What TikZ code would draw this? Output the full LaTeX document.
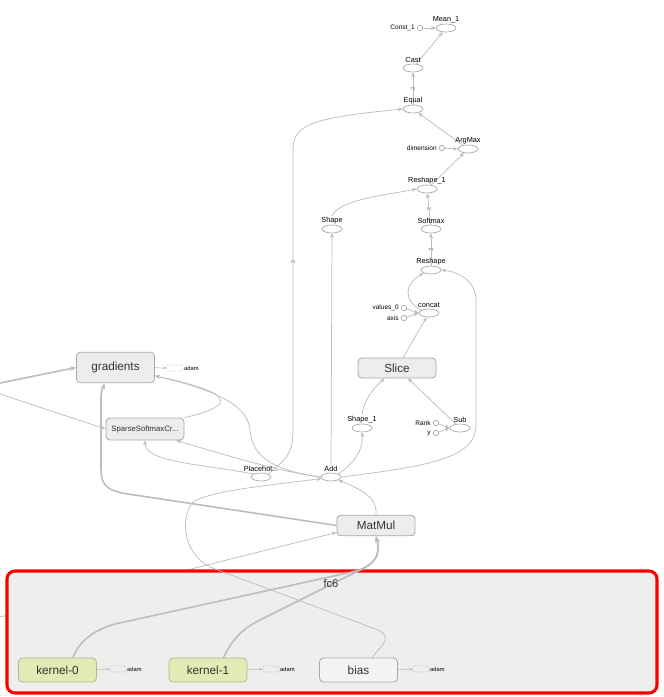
\documentclass[tikz,border=0pt]{standalone}
\usepackage{fontspec}
\setmainfont{Liberation Sans}
\usepackage{tikz}
\usetikzlibrary{positioning,arrows.meta,calc,shapes.geometric}
\definecolor{edgec}{HTML}{BDBDBD}
\definecolor{opline}{HTML}{A6A6A6}
\definecolor{boxfill}{HTML}{EDEDEB}
\definecolor{boxline}{HTML}{A8A8A8}
\definecolor{kernfill}{HTML}{E2EAB6}
\definecolor{kernline}{HTML}{B3B88E}
\definecolor{biasfill}{HTML}{F4F4F2}
\definecolor{grpfill}{HTML}{EEEEEC}
\definecolor{lblblue}{HTML}{5B7FA6}
\pgfdeclarelayer{bottom}\pgfdeclarelayer{group}\pgfdeclarelayer{edges}
\pgfsetlayers{bottom,group,edges,main}

\begin{document}
\begin{tikzpicture}[x=0.75pt,y=-0.75pt,
  op/.style={ellipse,draw=opline,fill=white,line width=0.5pt,minimum width=15pt,minimum height=6pt,inner sep=0pt},
  oplbl/.style={font=\fontsize{5.5}{6}\selectfont,inner sep=0.6pt},
  cst/.style={circle,draw=opline,fill=white,line width=0.5pt,minimum size=4pt,inner sep=0pt},
  cstlbl/.style={font=\fontsize{4.9}{5}\selectfont,inner sep=0.5pt,label distance=1pt},
  meta/.style={rectangle,rounded corners=3pt,draw=boxline,fill=boxfill,line width=0.6pt,minimum width=58.5pt,text=black!80,font=\fontsize{8.8}{9}\selectfont,inner sep=0pt},
  kern/.style={meta,fill=kernfill,draw=kernline},
  aux/.style={rectangle,rounded corners=1.5pt,draw=opline,densely dotted,line width=0.4pt,minimum width=12pt,minimum height=4.5pt,inner sep=0pt},
  auxlbl/.style={font=\fontsize{4.3}{5}\selectfont,inner sep=0.5pt},
  conn/.style={draw=edgec,line width=0.55pt,-{Stealth[length=3.6pt,width=3pt]}},
  fatconn/.style={conn,line width=1.2pt,-{Stealth[length=4.5pt,width=3.8pt]}},
  auxconn/.style={conn,-{Stealth[length=2.6pt,width=2.2pt]}},
  elbl/.style={font=\fontsize{4.5}{5}\selectfont,text=lblblue,inner sep=0.5pt,sloped}]
  \useasboundingbox (0,0) rectangle (664,697);

  \node[op,label={[oplbl]above:Mean\_1}] (mean) at (446,28) {};
  \node[cst,label={[cstlbl]left:Const\_1}] (const1) at (420,28) {};
  \node[op,label={[oplbl]above:Cast}] (cast) at (413,68) {};
  \node[op,label={[oplbl]above:Equal}] (equal) at (413,109) {};
  \node[op,label={[oplbl]above:ArgMax}] (argmax) at (468,149) {};
  \node[cst,label={[cstlbl]left:dimension}] (dim) at (442,148) {};
  \node[op,label={[oplbl]above:Reshape\_1}] (reshape1) at (427,189) {};
  \node[op,label={[oplbl]above:Softmax}] (softmax) at (431,229) {};
  \node[op,label={[oplbl]above:Reshape}] (reshape) at (431,270) {};
  \node[op,label={[oplbl,name=shape-l]above:Shape}] (shape) at (332,229) {};
  \node[op,label={[oplbl]above:concat}] (concat) at (429,313) {};
  \node[cst,label={[cstlbl]left:values\_0}] (val0) at (404,308) {};
  \node[cst,label={[cstlbl]left:axis}] (axis) at (404,318) {};
  \node[meta,minimum height=15pt] (slice) at (397,368) {Slice};
  \node[op,label={[oplbl,name=shape1-l]above:Shape\_1}] (shape1) at (362,428) {};
  \node[op,label={[oplbl]above:Sub}] (sub) at (460,428) {};
  \node[cst,label={[cstlbl]left:Rank}] (rank) at (436,423) {};
  \node[cst,label={[cstlbl]left:y}] (yin) at (436,433) {};
  \node[op,label={[oplbl,name=add-l]above:Add}] (add) at (331,477) {};
  \node[op,label={[oplbl]above:Placehol...}] (ph) at (261,477) {};

  \node[meta,minimum height=23pt] (grad) at (115.5,367.5) {gradients};
  \node[aux,label={[auxlbl]right:adam}] (grad-adam) at (175,368) {};
  \node[meta,minimum height=16.5pt,font=\fontsize{5.8}{6}\selectfont] (sparse) at (145,429) {SparseSoftmaxCr...};
  \node[meta,minimum height=15.5pt] (matmul) at (376,525.5) {MatMul};

  \begin{pgfonlayer}{group}
    \node[draw=red,line width=2.3pt,rounded corners=6pt,fill=grpfill,minimum width=487.5pt,minimum height=91.5pt] (fc6) at (332,632) {};
  \end{pgfonlayer}
  \node[font=\fontsize{8.4}{9}\selectfont,text=black!80] (fc6-l) at (331,583) {fc6};
  \node[kern,minimum height=18pt] (k0) at (57.5,670) {kernel-0};
  \node[kern,minimum height=18pt] (k1) at (208,670) {kernel-1};
  \node[meta,fill=biasfill,minimum height=18pt] (bias) at (358.5,670) {bias};
  \node[aux,label={[auxlbl]right:adam}] (k0-adam) at (118,669) {};
  \node[aux,label={[auxlbl]right:adam}] (k1-adam) at (271,669) {};
  \node[aux,label={[auxlbl]right:adam}] (bias-adam) at (421,669) {};

  \coordinate (inA) at (0,383);
  \coordinate (inB) at (0,394);
  \coordinate (inC) at (0,617);

  \begin{pgfonlayer}{bottom}
    \draw[conn] (inC) -- (matmul.190);
  \end{pgfonlayer}

  \begin{pgfonlayer}{edges}
  \draw[conn] (const1) -- (mean);
  \draw[conn] (cast) -- (mean);
  \draw[conn] (equal) -- node[elbl]{2} (cast);
  \draw[conn] (argmax) -- (equal);
  \draw[conn] (dim) -- (argmax.west);
  \draw[conn] (reshape1) -- (argmax);
  \draw[conn] (softmax) -- node[elbl]{2} (reshape1);
  \draw[conn] (reshape) -- node[elbl]{2} (softmax);
  \draw[conn] (shape-l.north) .. controls (340,200) and (380,196) .. (reshape1.west);
  \draw[conn] (concat.north west) .. controls (404,302) and (403,285) .. (reshape.south west);
  \draw[conn] (val0) -- (concat.west);
  \draw[conn] (axis) -- (concat.west);
  \draw[conn] (slice) -- (concat);
  \draw[conn] (shape1-l.north) .. controls (364,400) and (372,390) .. (slice.-140);
  \draw[conn] (sub) -- (slice);
  \draw[conn] (rank) -- (sub.west);
  \draw[conn] (yin) -- (sub.west);
  \draw[conn] (add.north east) .. controls (352,465) and (364,450) .. (shape1.south);
  \draw[conn] (add-l.north) -- (shape.south);
  \draw[conn] (add.east) .. controls (430,466) and (476,458) .. (476,425) -- (476,300) .. controls (476,282) and (460,272) .. (reshape.east);
  \draw[conn] (ph.north east) .. controls (285,460) and (293,455) .. (293,430) -- node[elbl,pos=0.6]{2} (293,150) .. controls (293,125) and (310,118) .. (equal.west);
  \draw[conn] (add.west) .. controls (280,472) and (215,452) .. (sparse.-20);
  \draw[conn] (ph.north west) .. controls (200,464) and (145,462) .. (sparse.south);
  \draw[conn] (add.west) .. controls (270,470) and (252,455) .. (250,430) .. controls (248,405) and (215,390) .. (grad.-12);
  \draw[conn] (sparse.north east) .. controls (240,405) and (232,392) .. (grad.-12);
  \draw[fatconn] (matmul.west) -- (128,494) .. controls (102,490) and (101,482) .. (101,465) -- (101,398) .. controls (101,390) and (103,388) .. (grad.-125);
  \draw[fatconn] (inA) -- (grad.west);
  \draw[conn] (inB) -- (sparse.west);
  \draw[conn] (matmul.north) .. controls (377,500) and (368,492) .. (add.south east);
  \draw[conn] (bias.42) .. controls (378,648) and (395,638) .. (378,630) -- (215,569) .. controls (183,557) and (180,520) .. (192,503) .. controls (205,492) and (260,486) .. (add.190);
  \draw[fatconn] (k0.39) .. controls (78,645) and (88,632) .. (115,624) -- (352,572) .. controls (374,567) and (381,556) .. (matmul.south);
  \draw[fatconn] (k1.39) .. controls (230,645) and (238,630) .. (262,619) -- (362,569) .. controls (374,563) and (381,556) .. (matmul.south);
  \draw[auxconn] (grad) -- (grad-adam);
  \draw[auxconn] (k0) -- (k0-adam);
  \draw[auxconn] (k1) -- (k1-adam);
  \draw[auxconn] (bias) -- (bias-adam);
  \end{pgfonlayer}
\end{tikzpicture}
\end{document}
